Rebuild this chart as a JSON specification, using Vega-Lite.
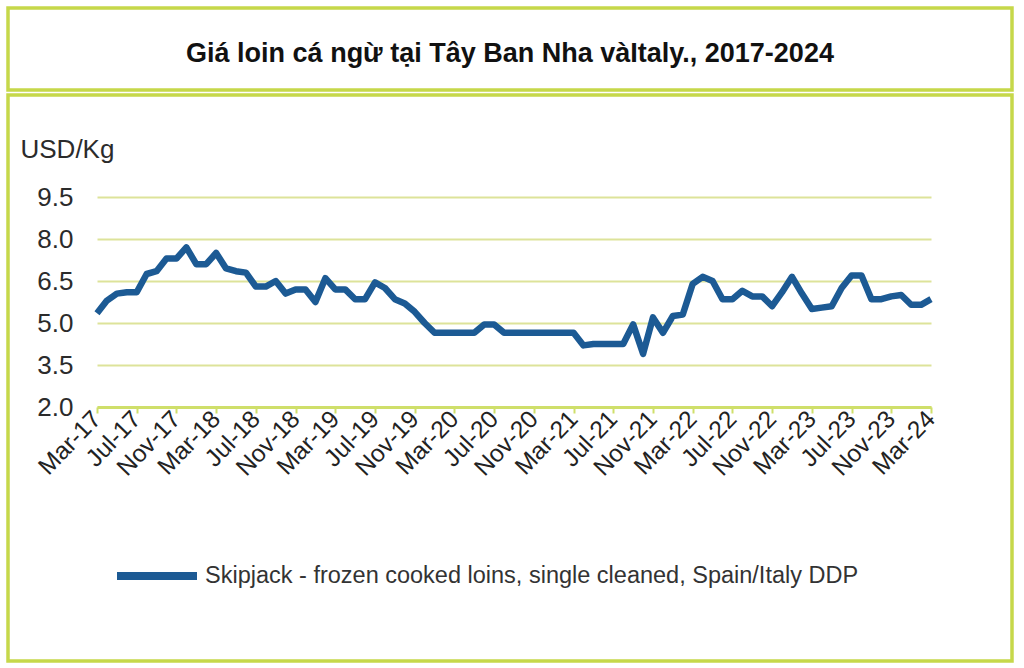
{
  "$schema": "https://vega.github.io/schema/vega-lite/v6.json",
  "background": "white",
  "padding": {"left": 6, "top": 6, "right": 10, "bottom": 6},
  "spacing": 1,
  "config": {
    "font": "Liberation Sans",
    "view": {"stroke": "#c6d84a", "strokeWidth": 3.5}
  },
  "datasets": {
    "prices": [
      {"month": "Mar-17", "price": 5.35}, {"month": "Apr-17", "price": 5.8}, {"month": "May-17", "price": 6.05},
      {"month": "Jun-17", "price": 6.1}, {"month": "Jul-17", "price": 6.1}, {"month": "Aug-17", "price": 6.75},
      {"month": "Sep-17", "price": 6.85}, {"month": "Oct-17", "price": 7.3}, {"month": "Nov-17", "price": 7.3},
      {"month": "Dec-17", "price": 7.7}, {"month": "Jan-18", "price": 7.1}, {"month": "Feb-18", "price": 7.1},
      {"month": "Mar-18", "price": 7.5}, {"month": "Apr-18", "price": 6.95}, {"month": "May-18", "price": 6.85},
      {"month": "Jun-18", "price": 6.8}, {"month": "Jul-18", "price": 6.3}, {"month": "Aug-18", "price": 6.3},
      {"month": "Sep-18", "price": 6.5}, {"month": "Oct-18", "price": 6.05}, {"month": "Nov-18", "price": 6.2},
      {"month": "Dec-18", "price": 6.2}, {"month": "Jan-19", "price": 5.75}, {"month": "Feb-19", "price": 6.6},
      {"month": "Mar-19", "price": 6.2}, {"month": "Apr-19", "price": 6.2}, {"month": "May-19", "price": 5.85},
      {"month": "Jun-19", "price": 5.85}, {"month": "Jul-19", "price": 6.45}, {"month": "Aug-19", "price": 6.25},
      {"month": "Sep-19", "price": 5.85}, {"month": "Oct-19", "price": 5.7}, {"month": "Nov-19", "price": 5.4},
      {"month": "Dec-19", "price": 5.0}, {"month": "Jan-20", "price": 4.65}, {"month": "Feb-20", "price": 4.65},
      {"month": "Mar-20", "price": 4.65}, {"month": "Apr-20", "price": 4.65}, {"month": "May-20", "price": 4.65},
      {"month": "Jun-20", "price": 4.95}, {"month": "Jul-20", "price": 4.95}, {"month": "Aug-20", "price": 4.65},
      {"month": "Sep-20", "price": 4.65}, {"month": "Oct-20", "price": 4.65}, {"month": "Nov-20", "price": 4.65},
      {"month": "Dec-20", "price": 4.65}, {"month": "Jan-21", "price": 4.65}, {"month": "Feb-21", "price": 4.65},
      {"month": "Mar-21", "price": 4.65}, {"month": "Apr-21", "price": 4.2}, {"month": "May-21", "price": 4.25},
      {"month": "Jun-21", "price": 4.25}, {"month": "Jul-21", "price": 4.25}, {"month": "Aug-21", "price": 4.25},
      {"month": "Sep-21", "price": 4.95}, {"month": "Oct-21", "price": 3.9}, {"month": "Nov-21", "price": 5.2},
      {"month": "Dec-21", "price": 4.65}, {"month": "Jan-22", "price": 5.25}, {"month": "Feb-22", "price": 5.3},
      {"month": "Mar-22", "price": 6.4}, {"month": "Apr-22", "price": 6.65}, {"month": "May-22", "price": 6.5},
      {"month": "Jun-22", "price": 5.85}, {"month": "Jul-22", "price": 5.85}, {"month": "Aug-22", "price": 6.15},
      {"month": "Sep-22", "price": 5.95}, {"month": "Oct-22", "price": 5.95}, {"month": "Nov-22", "price": 5.6},
      {"month": "Dec-22", "price": 6.1}, {"month": "Jan-23", "price": 6.65}, {"month": "Feb-23", "price": 6.05},
      {"month": "Mar-23", "price": 5.5}, {"month": "Apr-23", "price": 5.55}, {"month": "May-23", "price": 5.6},
      {"month": "Jun-23", "price": 6.25}, {"month": "Jul-23", "price": 6.7}, {"month": "Aug-23", "price": 6.7},
      {"month": "Sep-23", "price": 5.85}, {"month": "Oct-23", "price": 5.85}, {"month": "Nov-23", "price": 5.95},
      {"month": "Dec-23", "price": 6.0}, {"month": "Jan-24", "price": 5.65}, {"month": "Feb-24", "price": 5.65},
      {"month": "Mar-24", "price": 5.85}
    ]
  },
  "vconcat": [
    {
      "width": 1004,
      "height": 82,
      "data": {"values": [{"label": "Giá loin cá ngừ tại Tây Ban Nha vàItaly., 2017-2024"}]},
      "mark": {"type": "text", "fontSize": 27, "fontWeight": "bold", "color": "#111111", "baseline": "middle", "dy": 5},
      "encoding": {
        "x": {"datum": 0.5, "type": "quantitative", "scale": {"domain": [0, 1]}, "axis": null},
        "y": {"datum": 0.5, "type": "quantitative", "scale": {"domain": [0, 1]}, "axis": null},
        "text": {"field": "label"}
      }
    },
    {
      "width": 1004,
      "height": 566,
      "data": {"name": "prices"},
      "mark": {"type": "line", "strokeWidth": 6.5, "strokeJoin": "round"},
      "encoding": {
        "x": {
          "field": "month",
          "type": "ordinal",
          "sort": null,
          "scale": {"type": "point", "range": [89, 923], "padding": 0},
          "axis": {
            "values": ["Mar-17", "Jul-17", "Nov-17", "Mar-18", "Jul-18", "Nov-18", "Mar-19", "Jul-19", "Nov-19", "Mar-20", "Jul-20", "Nov-20", "Mar-21", "Jul-21", "Nov-21", "Mar-22", "Jul-22", "Nov-22", "Mar-23", "Jul-23", "Nov-23", "Mar-24"],
            "title": null,
            "offset": -254,
            "grid": false,
            "domainColor": "#cfdf6a",
            "domainWidth": 3,
            "tickColor": "#cfdf6a",
            "tickWidth": 2,
            "tickSize": 6,
            "labelAngle": -46,
            "labelFontSize": 24.5,
            "labelColor": "#222222",
            "labelPadding": 2,
            "labelOverlap": false
          }
        },
        "y": {
          "field": "price",
          "type": "quantitative",
          "scale": {"domain": [2, 9.5], "range": [312, 102], "nice": false, "zero": false},
          "axis": {
            "values": [2, 3.5, 5, 6.5, 8, 9.5],
            "format": ".1f",
            "offset": -89,
            "domain": false,
            "ticks": false,
            "grid": true,
            "gridColor": "#dde39a",
            "gridWidth": 2,
            "labelFontSize": 26,
            "labelColor": "#2b2b2b",
            "labelPadding": 24,
            "title": "USD/Kg",
            "titleAngle": 0,
            "titleAlign": "left",
            "titleBaseline": "alphabetic",
            "titleX": -77,
            "titleY": 62,
            "titleFontSize": 26,
            "titleFontWeight": "normal",
            "titleColor": "#2b2b2b"
          }
        },
        "color": {
          "datum": "Skipjack - frozen cooked loins, single cleaned, Spain/Italy DDP",
          "scale": {"range": ["#1c5a94"]},
          "legend": {
            "orient": "none",
            "legendX": 105,
            "legendY": 524,
            "title": null,
            "padding": 0,
            "symbolType": "stroke",
            "symbolSize": 6400,
            "symbolStrokeWidth": 8,
            "labelFontSize": 23.5,
            "labelColor": "#333333",
            "labelLimit": 0,
            "labelOffset": 4
          }
        }
      }
    }
  ]
}
